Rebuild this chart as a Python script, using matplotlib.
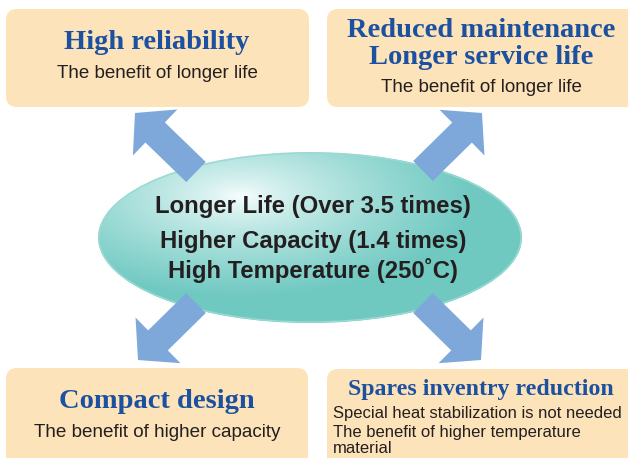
import numpy as np
import matplotlib
matplotlib.use("Agg")
import matplotlib.pyplot as plt
from matplotlib.patches import FancyBboxPatch, Ellipse, Polygon

W, H = 628, 458

# ---- content ----
box_titles = [
    ["High reliability"],
    ["Reduced maintenance", "Longer service life"],
    ["Compact design"],
    ["Spares inventry reduction"],
]
box_subs = [
    ["The benefit of longer life"],
    ["The benefit of longer life"],
    ["The benefit of higher capacity"],
    ["Special heat stabilization is not needed",
     "The benefit of higher temperature", "material"],
]
center_lines = ["Longer Life (Over 3.5 times)",
                "Higher Capacity (1.4 times)",
                "High Temperature (250\u02daC)"]

# ---- layout ----
boxes = [(6, 9, 303, 98), (327, 9, 310, 98), (6, 368, 302, 110), (327, 369, 310, 110)]
title_base = [[49], [37, 64], [408], [395]]
title_cx = [157, 481, 157, 481]
title_size = [20.5, 20.5, 20.5, 17.2]
sub_base = [[78], [92], [437], [418, 437, 453]]
sub_x = [157, 481, 157, 333]
sub_ha = ["center", "center", "center", "left"]
sub_size = [13.5, 13.5, 13.6, 12]

arrow_tails = [(196, 172), (423, 171), (196, 303), (423, 303)]
arrow_tips = [(135, 113), (482, 113), (138, 360), (481, 360)]

BOX_C = "#FDE3B9"
TITLE_C = "#1C50A0"
TEXT_C = "#231F20"
ARROW_C = "#7DA8D9"

fig = plt.figure(figsize=(W / 100, H / 100), dpi=100)
ax = fig.add_axes([0, 0, 1, 1])
ax.set_xlim(0, W)
ax.set_ylim(H, 0)
ax.axis("off")

# boxes
for (x, y, w, h) in boxes:
    ax.add_patch(FancyBboxPatch((x, y), w, h,
                                boxstyle="round,pad=0,rounding_size=11",
                                fc=BOX_C, ec="none", zorder=1))

for i in range(4):
    for line, yb in zip(box_titles[i], title_base[i]):
        ax.text(title_cx[i], yb, line, ha="center", va="baseline",
                fontsize=title_size[i], fontweight="bold",
                family="Liberation Serif", color=TITLE_C, zorder=5)
    for line, yb in zip(box_subs[i], sub_base[i]):
        ax.text(sub_x[i], yb, line, ha=sub_ha[i], va="baseline",
                fontsize=sub_size[i], family="Liberation Sans",
                color=TEXT_C, zorder=5)

# ellipse with radial gradient
cx, cy, ew, eh = 310, 237.5, 424, 171
x0, x1 = cx - ew / 2, cx + ew / 2
y0, y1 = cy - eh / 2, cy + eh / 2
xs = np.linspace(x0, x1, 400)
ys = np.linspace(y0, y1, 170)
X, Y = np.meshgrid(xs, ys)
hx, hy = 240, 196
d = np.sqrt(((X - hx) / 230.0) ** 2 + ((Y - hy) / 100.0) ** 2)
t = np.clip(d, 0, 1) ** 0.75
light = np.array([0.98, 1.0, 1.0])
teal = np.array([0.44, 0.79, 0.76])
img = light[None, None, :] * (1 - t[..., None]) + teal[None, None, :] * t[..., None]
ell = Ellipse((cx, cy), ew, eh, fc="none", ec="none")
ax.add_patch(ell)
im = ax.imshow(img, extent=(x0, x1, y1, y0), origin="upper",
               interpolation="bilinear", zorder=2, aspect="auto")
im.set_clip_path(ell)
ax.add_patch(Ellipse((cx, cy), ew - 2, eh - 2, fc="none", ec="#9ADAD3",
                     lw=1.0, zorder=2.5))


def arrow_poly(tail, tip, w=28, Wd=64, L=28):
    tail = np.array(tail, float)
    tip = np.array(tip, float)
    u = tip - tail
    u /= np.linalg.norm(u)
    n = np.array([-u[1], u[0]])
    base = tip - u * L
    pts = [tail + n * w / 2, base + n * w / 2, base + n * Wd / 2, tip,
           base - n * Wd / 2, base - n * w / 2, tail - n * w / 2]
    return np.array(pts)


for tl, tp in zip(arrow_tails, arrow_tips):
    ax.add_patch(Polygon(arrow_poly(tl, tp), closed=True, fc=ARROW_C,
                         ec="none", zorder=3))

center_base = [213, 248, 278]
for line, yb in zip(center_lines, center_base):
    ax.text(313, yb, line, ha="center", va="baseline", fontsize=17.2,
            fontweight="bold", family="Liberation Sans", color=TEXT_C,
            zorder=6)

fig.savefig("out.png", dpi=100)
